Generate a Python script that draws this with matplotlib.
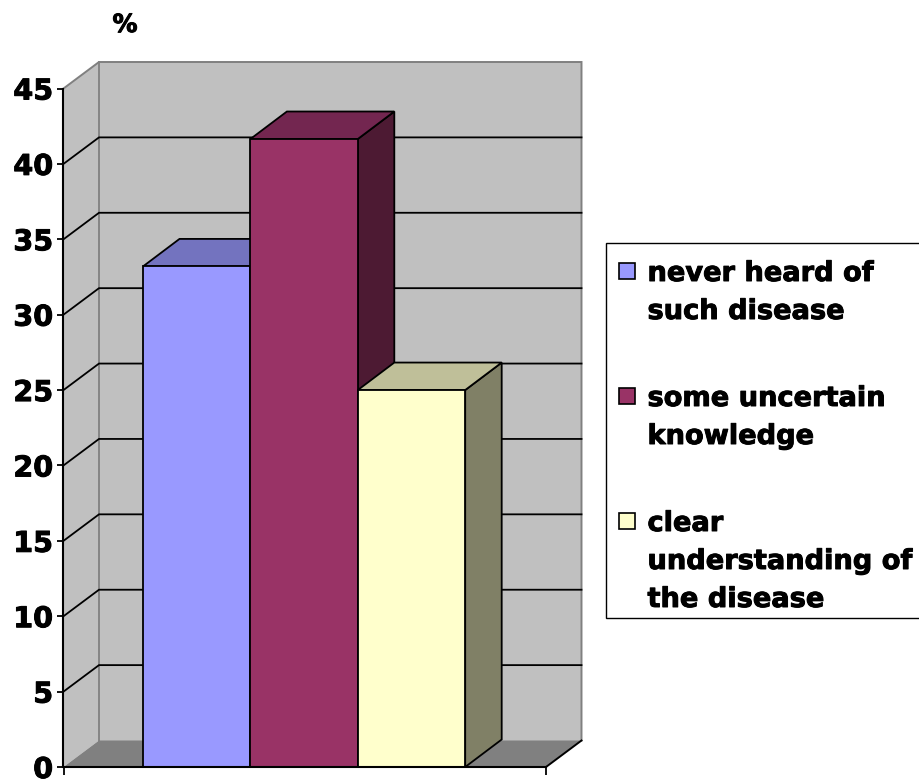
import matplotlib
matplotlib.use("Agg")
import matplotlib.pyplot as plt
import matplotlib.patheffects as pe
from matplotlib.patches import Polygon, Rectangle

# Survey shares, in percent
labels = ["never heard of\nsuch disease", "some uncertain\nknowledge", "clear\nunderstanding of\nthe disease"]
values = [33.2, 41.65, 25.0]
y_ticks = [0, 5, 10, 15, 20, 25, 30, 35, 40, 45]

front_colors = ["#9999FF", "#993366", "#FFFFCC"]
top_colors = ["#7373BF", "#732650", "#BFBF99"]
side_colors = ["#4D4D80", "#4D1A33", "#808066"]

W, H = 920, 783
fig = plt.figure(figsize=(W / 100, H / 100), dpi=100, facecolor="white")
plt.rcParams["font.family"] = "DejaVu Sans"

# Slightly thickened strokes give the heavy lettering
heavy = [pe.withStroke(linewidth=0.7, foreground="black")]

# Front plane of the chart box
L, R, T, B = 63.5, 546, 88.5, 767
ax = fig.add_axes([L / W, 1 - B / H, (R - L) / W, (B - T) / H])
ax.set_facecolor("none")

bar_w_px = 107.4
x_first_px = 196.7
ax.set_xlim((L - x_first_px) / bar_w_px, (R - x_first_px) / bar_w_px)
ax.set_ylim(0, 45)
x0, x1 = ax.get_xlim()

# Depth of the box expressed in data units
px_per_unit = (B - T) / 45
dx = 35.5 / bar_w_px
dy = 26.5 / px_per_unit

# Side wall, back wall and floor
ax.add_patch(Polygon([(x0, 0), (x0 + dx, dy), (x0 + dx, 45 + dy), (x0, 45)],
                     fc="#C0C0C0", ec="none", clip_on=False, zorder=1))
ax.add_patch(Polygon([(x0 + dx, dy), (x1 + dx, dy), (x1 + dx, 45 + dy), (x0 + dx, 45 + dy)],
                     fc="#C0C0C0", ec="none", clip_on=False, zorder=1))
ax.add_patch(Polygon([(x0, 0), (x0 + dx, dy), (x1 + dx, dy), (x1, 0)],
                     fc="#808080", ec="none", clip_on=False, zorder=1))
ax.plot([x0, x0 + dx, x1 + dx, x1 + dx], [45, 45 + dy, 45 + dy, dy],
        color="#808080", lw=1.4, clip_on=False, zorder=1.5, solid_joinstyle="miter")
ax.plot([x0 + dx, x0 + dx], [dy, 45 + dy], color="#808080", lw=1.3, clip_on=False, zorder=1.5)
ax.plot([x1 + dx, x1], [dy, 0], color="black", lw=1.4, clip_on=False, zorder=1.6)

# Gridlines wrap from the side wall onto the back wall
for t in y_ticks[1:-1]:
    ax.plot([x0, x0 + dx, x1 + dx], [t, t + dy, t + dy], color="black", lw=1.3,
            clip_on=False, zorder=2, solid_joinstyle="miter")

# Bars: extruded tops and sides first, fronts above them
bar_dx = 36.5 / bar_w_px
bar_dy = 27.5 / px_per_unit
for i, v in enumerate(values):
    a, b = i - 0.5, i + 0.5
    z = 3 + i
    ax.add_patch(Polygon([(b, 0), (b + bar_dx, bar_dy), (b + bar_dx, v + bar_dy), (b, v)],
                         fc=side_colors[i], ec="black", lw=1.3, clip_on=False, zorder=z))
    ax.add_patch(Polygon([(a, v), (a + bar_dx, v + bar_dy), (b + bar_dx, v + bar_dy), (b, v)],
                         fc=top_colors[i], ec="black", lw=1.3, clip_on=False, zorder=z))
    ax.bar(i, v, width=1.0, color=front_colors[i], edgecolor="black", lw=1.3,
           clip_on=False, zorder=z + 0.5)

# Axes
for s in ("top", "right"):
    ax.spines[s].set_visible(False)
for s in ("left", "bottom"):
    ax.spines[s].set_linewidth(1.5)
    ax.spines[s].set_zorder(8)
ax.set_yticks(y_ticks)
ax.set_yticklabels([str(t) for t in y_ticks], fontsize=20.6, fontweight="bold", path_effects=heavy)
ax.set_xticks([x0, x1])
ax.set_xticklabels(["", ""])
ax.tick_params(axis="y", length=4, width=1.3, pad=3.5, color="black")
ax.tick_params(axis="x", length=6, width=1.3, color="black")

fig.text(125 / W, 1 - 25 / H, "%", fontsize=18, fontweight="bold", ha="center", va="center",
         path_effects=heavy)

# Legend box, laid out in pixel coordinates of the figure
overlay = fig.add_axes([0, 0, 1, 1], facecolor="none")
overlay.set_xlim(0, W)
overlay.set_ylim(H, 0)
overlay.axis("off")
overlay.add_patch(Rectangle((606.5, 243), 320, 375, fc="white", ec="black", lw=1.0, clip_on=True))
line_h = 38
y = 271
for lab, col in zip(labels, front_colors):
    overlay.add_patch(Rectangle((619.5, y - 8), 16, 16, fc=col, ec="black", lw=1.2))
    for line in lab.split("\n"):
        overlay.text(647.5, y, line, fontsize=19.6, fontweight="bold", ha="left",
                     va="center_baseline", color="black", path_effects=heavy)
        y += line_h
    y += 49

fig.savefig("out.png", dpi=100)
